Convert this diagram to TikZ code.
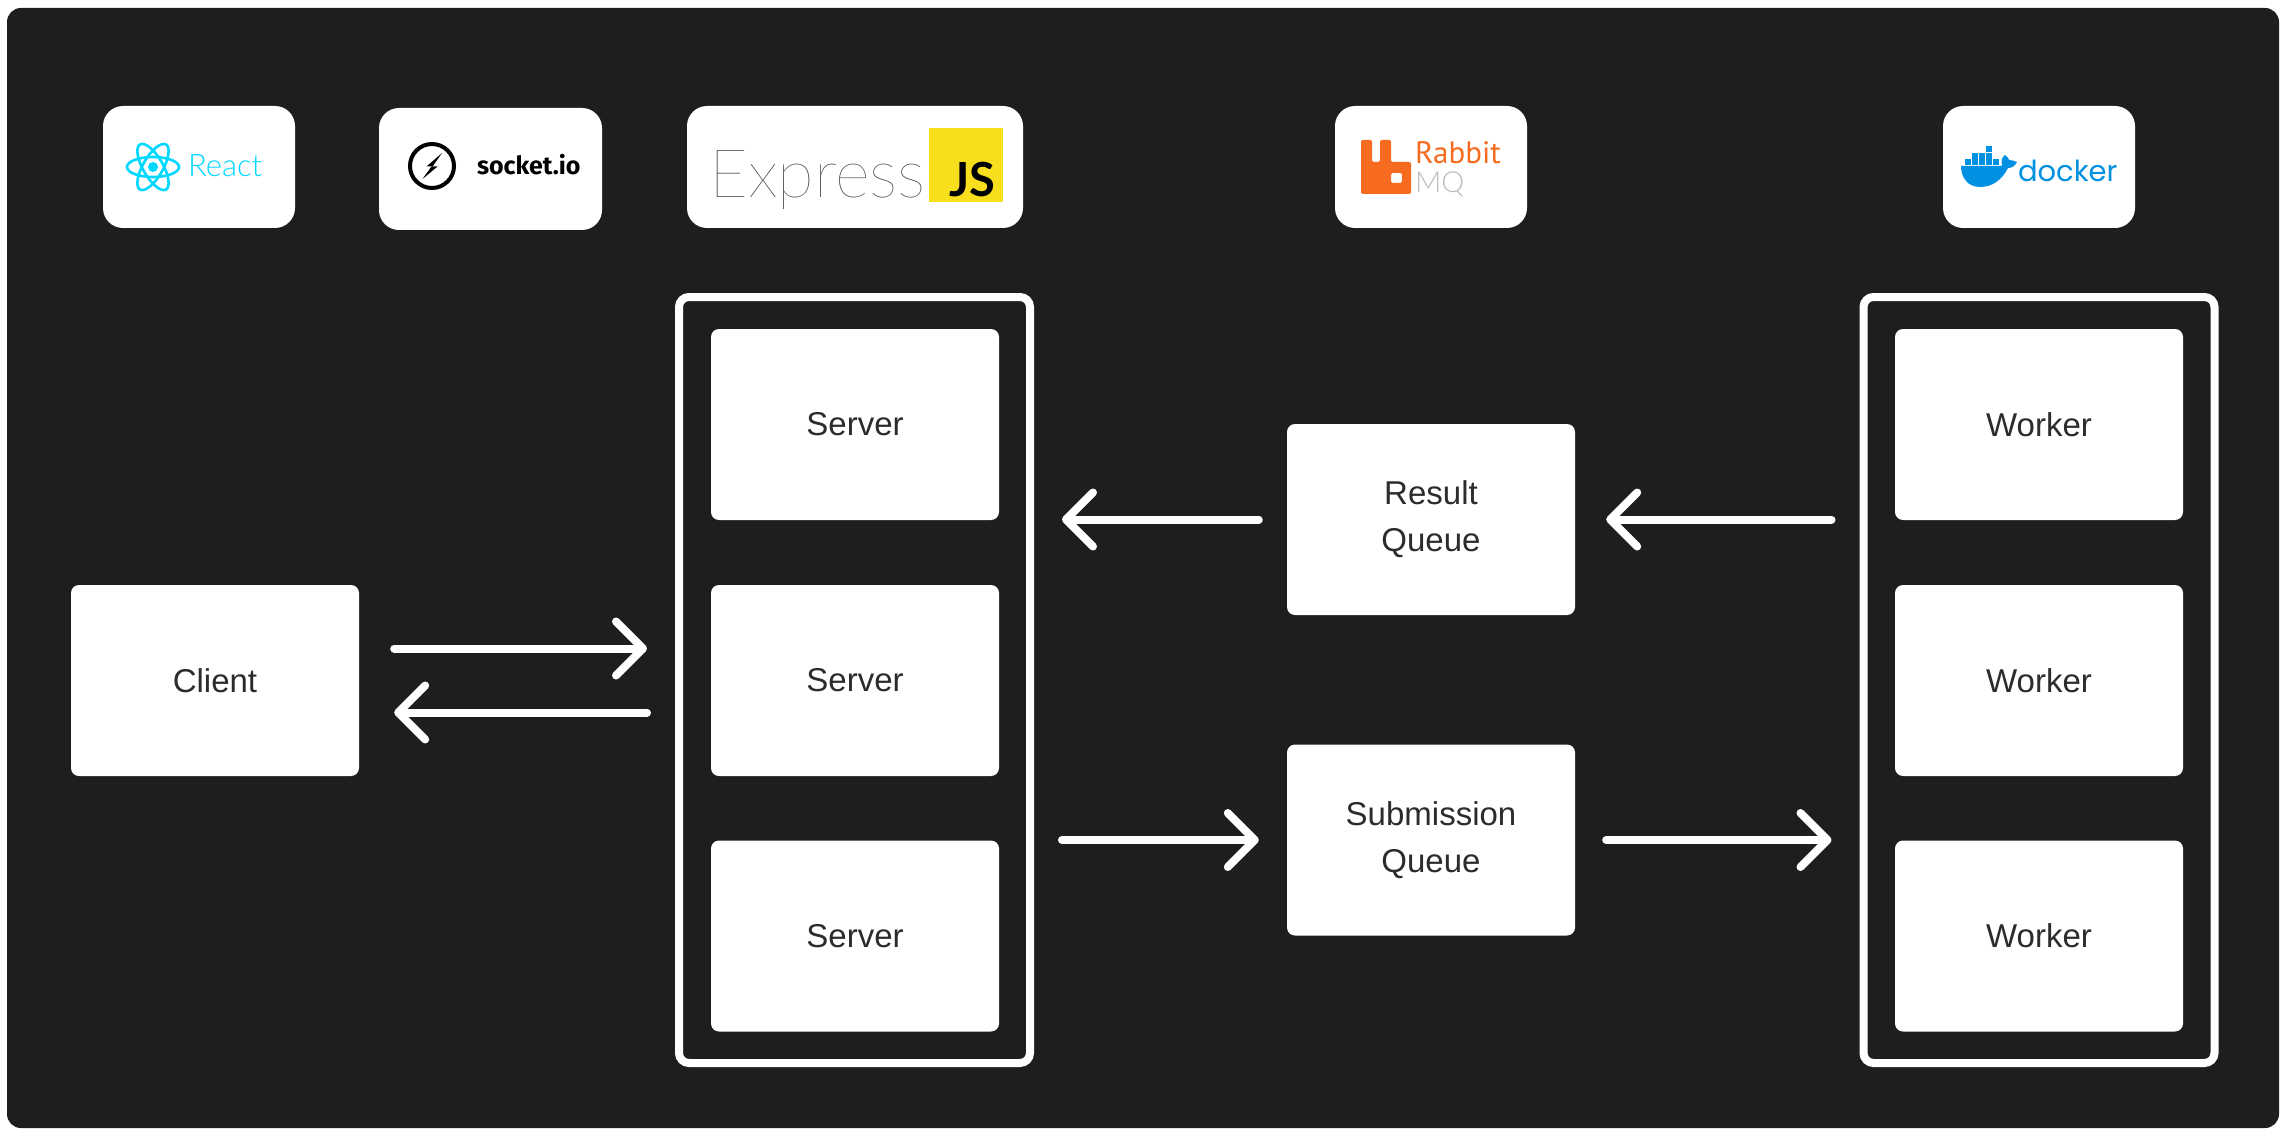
\documentclass[tikz,border=0pt]{standalone}
\usepackage{fontspec}
\usepackage{tikz}
\usetikzlibrary{arrows.meta}
\setmainfont{Liberation Sans}
\newfontfamily\latolight{Lato Light}
\newfontfamily\latothin{Lato Hairline}
\newfontfamily\latofont{Lato}
\newfontfamily\firafont{Fira Sans}
\newfontfamily\ptfont{PT Sans}
\newfontfamily\poppinsfont{Poppins}
\definecolor{panel}{HTML}{1E1E1E}
\definecolor{boxtext}{HTML}{2C2C2C}
\definecolor{reactcyan}{HTML}{00D8FF}
\definecolor{jsyellow}{HTML}{F7DF1E}
\definecolor{rabbitorange}{HTML}{F76B21}
\definecolor{mqgrey}{HTML}{BDBDBD}
\definecolor{dockerblue}{HTML}{0091E2}
\tikzset{
  box/.style={fill=white,rounded corners=8pt,minimum width=288pt,minimum height=191pt,
    align=center,text=boxtext,inner sep=0pt,font=\fontsize{33}{47}\selectfont},
  tile/.style={fill=white,rounded corners=20pt,minimum height=122pt,inner sep=0pt},
  holder/.style={draw=white,line width=8pt,rounded corners=10pt,minimum width=351pt,minimum height=766pt,inner sep=0pt},
  flow/.style={draw=white,line width=8pt,line cap=round,
    -{Straight Barb[length=27pt,width=54pt,round]}},
  logotext/.style={anchor=base west,inner sep=0pt,outer sep=0pt},
}
\begin{document}
\begin{tikzpicture}[x=1pt,y=-1pt]
\useasboundingbox (0,0) rectangle (2286,1134);
\fill[white] (0,0) rectangle (2286,1134);
\fill[panel,rounded corners=14pt] (7,8) rectangle (2279,1128);
% logo tiles
\node[tile,minimum width=192pt] (reacttile) at (199,167) {};
\node[tile,minimum width=223pt] (sockettile) at (490.5,169) {};
\node[tile,minimum width=336pt] (expresstile) at (855,167) {};
\node[tile,minimum width=192pt] (rabbittile) at (1431,167) {};
\node[tile,minimum width=192pt] (dockertile) at (2039,167) {};
% react
\foreach \ang in {0,60,120}
  \draw[reactcyan,line width=2.6pt,rotate around={\ang:(153,167)}] (153,167) ellipse [x radius=26,y radius=10];
\fill[reactcyan] (153,167) circle (5);
\node[logotext,text=reactcyan,font=\latolight\fontsize{31}{31}\selectfont] (reactname) at (188,177) {React};
% socket.io
\draw[black,line width=4pt] (432,166) circle (22);
\fill[black] (442,153) -- (426.5,166.5) -- (432.6,166.5) -- cycle;
\fill[black] (422.5,179) -- (431.5,166.5) -- (437.5,166.5) -- cycle;
\node[logotext,text=black,font=\firafont\bfseries\fontsize{25}{25}\selectfont] (socketname) at (477,175) {socket.io};
% express
\node[logotext,text=black!75,font=\latothin\fontsize{67}{67}\selectfont] (expressname) at (709,198) {Express};
\fill[jsyellow] (929,128) rectangle (1003,202);
\node[logotext,text=black,font=\latofont\bfseries\fontsize{47}{47}\selectfont] (jsname) at (949,197) {JS};
% rabbitmq
\fill[rabbitorange,rounded corners=2pt,even odd rule] (1361,140) -- (1372,140) -- (1372,162) -- (1380,162)
  -- (1380,140) -- (1391,140) -- (1391,162) -- (1411,162) -- (1411,194) -- (1361,194) -- cycle
  (1391,173) -- (1402,173) -- (1402,183) -- (1391,183) -- cycle;
\node[logotext,text=rabbitorange,font=\ptfont\fontsize{31}{31}\selectfont] (rabbitname) at (1415,164) {Rabbit};
\node[logotext,text=mqgrey,font=\latolight\fontsize{29}{29}\selectfont] (mqname) at (1415,193) {MQ};
% docker
\foreach \cx/\cy in {1965/159,1972/159,1979/159,1986/159,1993/159,1972/153,1979/153,1986/153,1986/146}
  \fill[dockerblue] (\cx,\cy) rectangle ++(6,6);
\fill[dockerblue] (1961,166) -- (2002,166) .. controls (2001,160) and (2002,157) .. (2005,155)
  .. controls (2007,157) and (2009,158) .. (2009,160) .. controls (2012,160) and (2015,161) .. (2017,162)
  .. controls (2015,166) and (2012,168) .. (2008,168) .. controls (2002,180) and (1992,187) .. (1980,187)
  .. controls (1968,187) and (1961,178) .. (1961,166) -- cycle;
\node[logotext,text=dockerblue,font=\poppinsfont\fontsize{29}{29}\selectfont] (dockername) at (2018,182) {docker};
% client
\node[box] (client) at (215,680.5) {Client};
% servers and workers
\node[holder] (serverbox) at (854.5,680) {};
\node[holder] (workerbox) at (2039,680) {};
\foreach \row/\yy in {1/424.5,2/680.5,3/936}{
  \node[box] (server\row) at (855,\yy) {Server};
  \node[box] (worker\row) at (2039,\yy) {Worker};
}
% queues
\node[box] (result) at (1431,519.5) {Result\\Queue};
\node[box] (submission) at (1431,840) {Submission\\Queue};
% arrows
\draw[flow,shorten <=35pt,shorten >=28pt] ([yshift=32pt]client.east) -- ([yshift=32pt,xshift=-0pt]client.east -| serverbox.west);
\draw[flow,shorten <=28pt,shorten >=35pt] ([yshift=-32pt]client.east -| serverbox.west) -- ([yshift=-32pt]client.east);
\draw[flow,shorten <=28pt,shorten >=31pt] (result.east -| workerbox.west) -- (result.east);
\draw[flow,shorten <=28pt,shorten >=28pt] (result.west) -- (result.west -| serverbox.east);
\draw[flow,shorten <=28pt,shorten >=28pt] (submission.west -| serverbox.east) -- (submission.west);
\draw[flow,shorten <=31pt,shorten >=28pt] (submission.east) -- (submission.east -| workerbox.west);
\end{tikzpicture}
\end{document}
